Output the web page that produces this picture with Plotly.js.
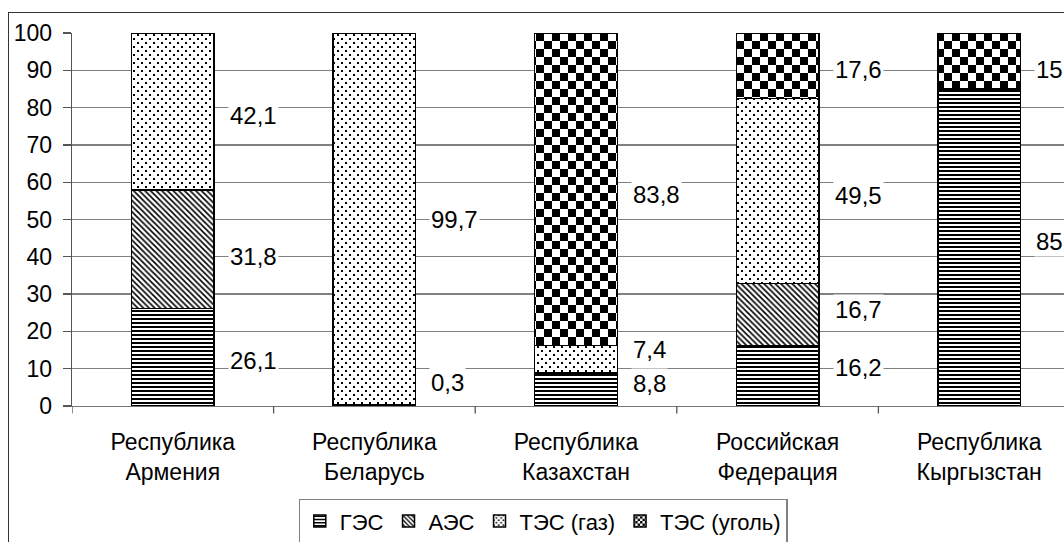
<!DOCTYPE html>
<html><head><meta charset="utf-8">
<script src="https://cdn.plot.ly/plotly-3.0.1.min.js"></script>
<style>
html,body{margin:0;padding:0;overflow:hidden;background:#fff;width:1064px;height:542px;}
#chart{position:absolute;left:0;top:0;width:1100px;height:542px;}
#frame{position:absolute;left:8px;top:12px;width:1200px;height:700px;border:1.5px solid #333;pointer-events:none;}
</style></head><body>
<div id="chart"></div><div id="frame"></div>
<script>
// ---- data ----
const categories = ['Республика<br>Армения', 'Республика<br>Беларусь', 'Республика<br>Казахстан', 'Российская<br>Федерация', 'Республика<br>Кыргызстан'];
const seriesNames = ['ГЭС', 'АЭС', 'ТЭС (газ)', 'ТЭС (уголь)'];
const hydro   = [26.1, 0.3, 8.8, 16.2, 85];
const nuclear = [31.8, 0, 0, 16.7, 0];
const gas     = [42.1, 99.7, 7.4, 49.5, 0];
const coal    = [0, 0, 83.8, 17.6, 15];
const yTickValues = [0, 10, 20, 30, 40, 50, 60, 70, 80, 90, 100];

// label vertical nudges in pixels (style only)
const labelNudge = [
  [-3, 23, 6, 8, 6],
  [-7.5, 0, 0, 5, 0],
  [-3.5, -1, 10, -5, 0],
  [0, 0, -5.5, -4, -9]
];

const FONT = 'Liberation Sans, Arial, sans-serif';
const series = [hydro, nuclear, gas, coal];
const patterns = [
  {shape: '-', size: 4, solidity: 0.5},
  {shape: '\\', size: 4, solidity: 0.4},
  {shape: '.', size: 6, solidity: 0.1},
  {shape: '+', size: 8, solidity: 0.5}
];
const idx = categories.map((c, i) => i);

const traces = series.map((vals, s) => ({
  type: 'bar',
  name: seriesNames[s],
  x: idx,
  y: vals,
  marker: {
    color: '#ffffff',
    line: {color: '#000', width: 1.5},
    pattern: Object.assign({fgcolor: '#000', bgcolor: '#fff', fillmode: 'replace'}, patterns[s])
  },
  hoverinfo: 'skip'
}));

const annotations = [];
idx.forEach(i => {
  let base = 0;
  series.forEach((vals, s) => {
    const v = vals[i];
    if (v > 0) {
      annotations.push({
        x: i, y: base + v / 2, xref: 'x', yref: 'y',
        text: String(v).replace('.', ','),
        showarrow: false, xanchor: 'left', yanchor: 'middle',
        xshift: 55, yshift: labelNudge[s][i],
        bgcolor: '#fff', borderpad: 1,
        font: {family: FONT, size: 24, color: '#000'}
      });
    }
    base += v;
  });
});

const layout = {
  width: 1100, height: 542,
  margin: {l: 72, r: 20, t: 33, b: 136},
  paper_bgcolor: 'rgba(0,0,0,0)', plot_bgcolor: '#fff',
  barmode: 'stack', bargap: 0.59,
  font: {family: FONT, size: 22, color: '#000'},
  showlegend: true,
  legend: {
    orientation: 'h', traceorder: 'normal',
    xref: 'container', yref: 'container',
    x: 543 / 1100, xanchor: 'center', y: 43 / 542, yanchor: 'top',
    bordercolor: '#808080', borderwidth: 1.3, bgcolor: '#fff',
    font: {family: FONT, size: 22, color: '#000'}
  },
  xaxis: {
    type: 'linear', range: [-0.5, 4.5],
    tickvals: idx, ticktext: categories,
    showline: true, linecolor: '#777', linewidth: 1.3,
    ticks: '', showgrid: false, zeroline: false,
    ticklabelstandoff: 15,
    tickfont: {family: FONT, size: 23, color: '#000'}
  },
  yaxis: {
    range: [0, 100], tickvals: yTickValues,
    ticks: 'outside', ticklen: 8, tickcolor: '#555', tickwidth: 1.3,
    showline: true, linecolor: '#555', linewidth: 1.3,
    showgrid: true, gridcolor: '#808080', gridwidth: 1.3,
    zeroline: false, ticklabelstandoff: 6,
    tickfont: {family: FONT, size: 23, color: '#000'}
  },
  annotations: annotations
};

// category boundary ticks on the x axis
const boundaries = [-0.5, 0.5, 1.5, 2.5, 3.5, 4.5];
layout.shapes = boundaries.map(b => ({
  type: 'line', xref: 'x', yref: 'paper', x0: b, x1: b, y0: 0, y1: -0.02,
  line: {color: '#555', width: 1.3}
}));

const NS = 'http://www.w3.org/2000/svg';
function clearPat(pat, w, h) {
  while (pat.firstChild) pat.removeChild(pat.firstChild);
  pat.setAttribute('width', w);
  pat.setAttribute('height', h);
}
function rect(pat, x, y, w, h, f) {
  const r = document.createElementNS(NS, 'rect');
  r.setAttribute('x', x); r.setAttribute('y', y);
  r.setAttribute('width', w); r.setAttribute('height', h);
  r.setAttribute('fill', f);
  pat.appendChild(r);
}
function checker(pat, cell) {
  clearPat(pat, 2 * cell, 2 * cell);
  rect(pat, 0, 0, 2 * cell, 2 * cell, '#fff');
  rect(pat, 0, 0, cell, cell, '#000');
  rect(pat, cell, cell, cell, cell, '#000');
}
function dots(pat, step, d) {
  clearPat(pat, step, step);
  rect(pat, 0, 0, step, step, '#fff');
  rect(pat, 1, 1, d, d, '#000');
  rect(pat, 1 + step / 2, 1 + step / 2, d, d, '#000');
}
function patchPaths(paths, fn) {
  paths.forEach(p => {
    const f = p.style.fill || p.getAttribute('fill') || '';
    const m = f.match(/#([^)"']+)/);
    if (m) {
      const pat = document.getElementById(m[1]);
      if (pat) fn(pat);
    }
  });
}
const gd = document.getElementById('chart');
Plotly.newPlot(gd, traces, layout, {staticPlot: true, displayModeBar: false}).then(() => {
  gd.querySelectorAll('.barlayer .trace').forEach(el => {
    const d = el.__data__;
    const tr = d && d[0] && d[0].trace;
    if (!tr) return;
    if (tr.name === 'ТЭС (уголь)') patchPaths(el.querySelectorAll('path'), p => checker(p, 8));
    if (tr.name === 'ТЭС (газ)') patchPaths(el.querySelectorAll('path'), p => dots(p, 8, 2));
  });
  gd.querySelectorAll('.legend .traces').forEach(el => {
    const d = el.__data__;
    const tr = d && d[0] && d[0].trace;
    if (!tr) return;
    if (tr.name === 'ТЭС (уголь)') patchPaths(el.querySelectorAll('.legendpoints path'), p => checker(p, 3));
    if (tr.name === 'ТЭС (газ)') patchPaths(el.querySelectorAll('.legendpoints path'), p => dots(p, 6, 2));
  });
});
</script>
</body></html>
